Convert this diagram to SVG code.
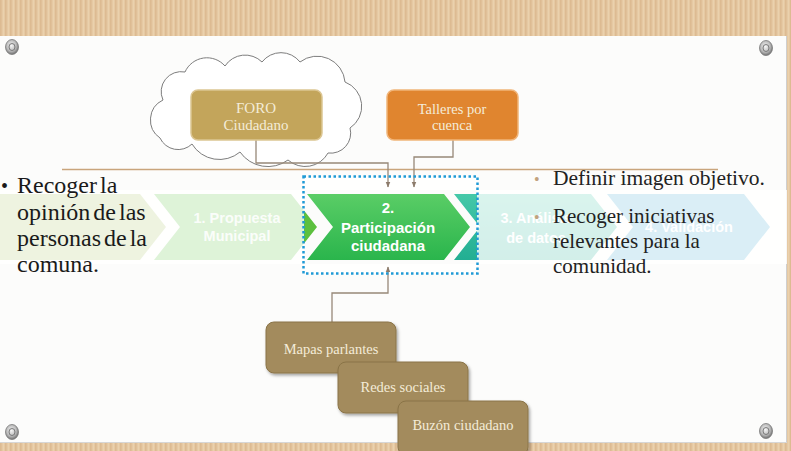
<svg xmlns="http://www.w3.org/2000/svg" width="791" height="451" viewBox="0 0 791 451">
  <style>
    .serif { font-family: "Liberation Serif", "Times New Roman", serif; }
    .boxtxt { font-family: "Liberation Serif", "Times New Roman", serif; font-size: 14.5px; fill: #f4ecd8; text-anchor: middle; }
    .chev { font-family: "Liberation Sans", Arial, sans-serif; font-size: 14.5px; font-weight: bold; fill: #ffffff; text-anchor: middle; }
    .conn { fill: none; stroke: #978878; stroke-width: 1.3; }
    .brown { fill: #a38b5d; stroke: #8a7448; stroke-width: 1; }
    .lefttxt { font-family: "Liberation Serif", "Times New Roman", serif; font-size: 24px; fill: #1a1a1a; word-spacing: -3px; }
    .righttxt { font-family: "Liberation Serif", "Times New Roman", serif; font-size: 21px; fill: #222222; }
    .screw { fill: url(#screw); stroke: #7a7a7a; stroke-width: 0.8; }
    .screwin { fill: none; stroke: #6f6f6f; stroke-width: 0.9; }
  </style>
  <defs>
    <pattern id="wood" width="5" height="10" patternUnits="userSpaceOnUse">
      <rect width="5" height="10" fill="#e6c9a3"/>
      <rect x="0" width="1.6" height="10" fill="#ddbb92"/>
      <rect x="3" width="0.8" height="10" fill="#ecd3b0"/>
    </pattern>
    <radialGradient id="screw" cx="0.45" cy="0.4" r="0.6">
      <stop offset="0" stop-color="#f6f6f6"/>
      <stop offset="0.6" stop-color="#bdbdbd"/>
      <stop offset="1" stop-color="#707070"/>
    </radialGradient>
    <linearGradient id="g2" x1="0" y1="0" x2="0" y2="1">
      <stop offset="0" stop-color="#5acd66"/>
      <stop offset="1" stop-color="#2ab54c"/>
    </linearGradient>
    <linearGradient id="g3" x1="0" y1="0" x2="0" y2="1">
      <stop offset="0" stop-color="#45c8a8"/>
      <stop offset="1" stop-color="#22ae92"/>
    </linearGradient>
    <marker id="arr" viewBox="0 0 10 10" refX="9" refY="5" markerWidth="6" markerHeight="6" orient="auto" markerUnits="userSpaceOnUse">
      <path d="M0,1 L10,5 L0,9 Z" fill="#8c7b6b"/>
    </marker>
    <filter id="sh" x="-10%" y="-10%" width="130%" height="140%">
      <feDropShadow dx="1.5" dy="2" stdDeviation="1.5" flood-color="#000" flood-opacity="0.35"/>
    </filter>
  </defs>

  <!-- background board -->
  <rect x="0" y="0" width="791" height="451" fill="url(#wood)"/>
  <rect x="0" y="36" width="787" height="407" fill="#fcfcfb"/>
  <line x1="786.5" y1="36" x2="786.5" y2="443" stroke="#cfcfcf" stroke-width="1"/>
  <line x1="0" y1="442.5" x2="787" y2="442.5" stroke="#d6d6d6" stroke-width="1"/>

  <!-- screws -->
  <g id="screws">
    <ellipse class="screw" cx="12" cy="47" rx="6.5" ry="7.5"/>
    <ellipse class="screwin" cx="12" cy="47" rx="3" ry="3.5"/>
    <ellipse class="screw" cx="766" cy="48" rx="6.5" ry="7.5"/>
    <ellipse class="screwin" cx="766" cy="48" rx="3" ry="3.5"/>
    <ellipse class="screw" cx="12" cy="432" rx="6.5" ry="7.5"/>
    <ellipse class="screwin" cx="12" cy="432" rx="3" ry="3.5"/>
    <ellipse class="screw" cx="766" cy="431" rx="6.5" ry="7.5"/>
    <ellipse class="screwin" cx="766" cy="431" rx="3" ry="3.5"/>
  </g>

  <!-- chevron process -->
  <g id="process">
    <polygon id="c0" points="0,194 140,194 166,227 140,260 0,260" fill="#a9c463"/>
    <polygon id="c1" points="154,194 291,194 317,227 291,260 154,260 180,227" fill="#5cc03e"/>
    <polygon id="c2" points="307,194 444,194 470,227 444,260 307,260 333,227" fill="url(#g2)"/>
    <polygon id="c3" points="454,194 591,194 617,227 591,260 454,260 480,227" fill="url(#g3)"/>
    <polygon id="c4" points="607,194 744,194 770,227 744,260 607,260 633,227" fill="#45acd0"/>
    <path d="M0,190 H787 V264 H0 Z M304,177 H477 V273 H304 Z" fill="#ffffff" fill-opacity="0.8" fill-rule="evenodd"/>
    <text class="chev" fill-opacity="0.9"><tspan x="237" y="223">1. Propuesta</tspan><tspan x="237" y="241">Municipal</tspan></text>
    <text class="chev" style="font-size:15px"><tspan x="388" y="213">2.</tspan><tspan x="388" y="232.5">Participación</tspan><tspan x="388" y="251">ciudadana</tspan></text>
    <text class="chev"><tspan x="536" y="223">3. Análisis</tspan><tspan x="536" y="243">de datos</tspan></text>
    <text class="chev" x="689" y="232">4. Validación</text>
  </g>

  <!-- divider line -->
  <line x1="62" y1="169.5" x2="718" y2="169.5" stroke="#c9a57c" stroke-width="1.5"/>

  <!-- cloud -->
  <g id="cloud">
    <path d="M160,138 A22,22 0 0 1 163,100 A20,20 0 0 1 185,72 A24,24 0 0 1 225,66 A24,24 0 0 1 262,62 A24,24 0 0 1 300,62 A28,28 0 0 1 345,82 A26,26 0 0 1 350,128 A20,20 0 0 1 328,153 A26,26 0 0 1 288,160 A34,34 0 0 1 240,152 A32,32 0 0 1 192,144 A20,20 0 0 1 160,138 Z" fill="#ffffff" stroke="#7d7d7d" stroke-width="1"/>
  </g>

  <!-- connectors -->
  <g id="connectors">
    <polyline class="conn" points="256,140 256,163 388,163 388,187" marker-end="url(#arr)"/>
    <polyline class="conn" points="453,140 453,157 414,157 414,187" marker-end="url(#arr)"/>
    <polyline class="conn" points="332,322 332,293 388,293 388,267" marker-end="url(#arr)"/>
  </g>

  <!-- top nodes -->
  <g id="foro">
    <rect x="191" y="90" width="131" height="50" rx="7" fill="#c3a55b" stroke="#dcc693" stroke-width="1.5"/>
    <text class="boxtxt" style="font-size:15px"><tspan x="256" y="113">FORO</tspan><tspan x="256" y="130">Ciudadano</tspan></text>
  </g>
  <g id="talleres">
    <rect x="387" y="90" width="131" height="50" rx="7" fill="#e0852f" stroke="#f0b57a" stroke-width="1.5"/>
    <text class="boxtxt"><tspan x="452" y="114">Talleres por</tspan><tspan x="452" y="130">cuenca</tspan></text>
  </g>

  <!-- selection box -->
  <rect id="selection" x="303.5" y="176.5" width="174" height="97" fill="none" stroke="#1f9ad6" stroke-width="2.5" stroke-dasharray="2.5 2.5"/>

  <!-- left text -->
  <g id="left-text">
    <text class="lefttxt" x="1" y="193" style="font-size:20px">•</text>
    <text class="lefttxt"><tspan x="17" y="193">Recoger la</tspan><tspan x="17" y="219.5">opinión de las</tspan><tspan x="17" y="246">personas de la</tspan><tspan x="17" y="272">comuna.</tspan></text>
  </g>

  <!-- right text -->
  <g id="right-text">
    <text x="534" y="185" fill="#c2a27e" class="serif" style="font-size:16px">•</text>
    <text x="534" y="223" fill="#c2a27e" class="serif" style="font-size:16px">•</text>
    <text class="righttxt" x="553" y="185" style="font-size:21.5px">Definir imagen objetivo.</text>
    <text class="righttxt"><tspan x="553" y="223">Recoger iniciativas</tspan><tspan x="553" y="248">relevantes para la</tspan><tspan x="553" y="273">comunidad.</tspan></text>
  </g>

  <!-- bottom nodes -->
  <g id="mapas">
    <rect class="brown" x="266" y="322" width="130" height="51" rx="8" filter="url(#sh)"/>
    <text class="boxtxt" x="331" y="354">Mapas parlantes</text>
  </g>
  <g id="redes">
    <rect class="brown" x="338" y="362" width="130" height="51" rx="8" filter="url(#sh)"/>
    <text class="boxtxt" x="403" y="392">Redes sociales</text>
  </g>
  <g id="buzon">
    <rect class="brown" x="398" y="401" width="130" height="54" rx="8" filter="url(#sh)"/>
    <text class="boxtxt" x="463" y="430">Buzón ciudadano</text>
  </g>
</svg>
